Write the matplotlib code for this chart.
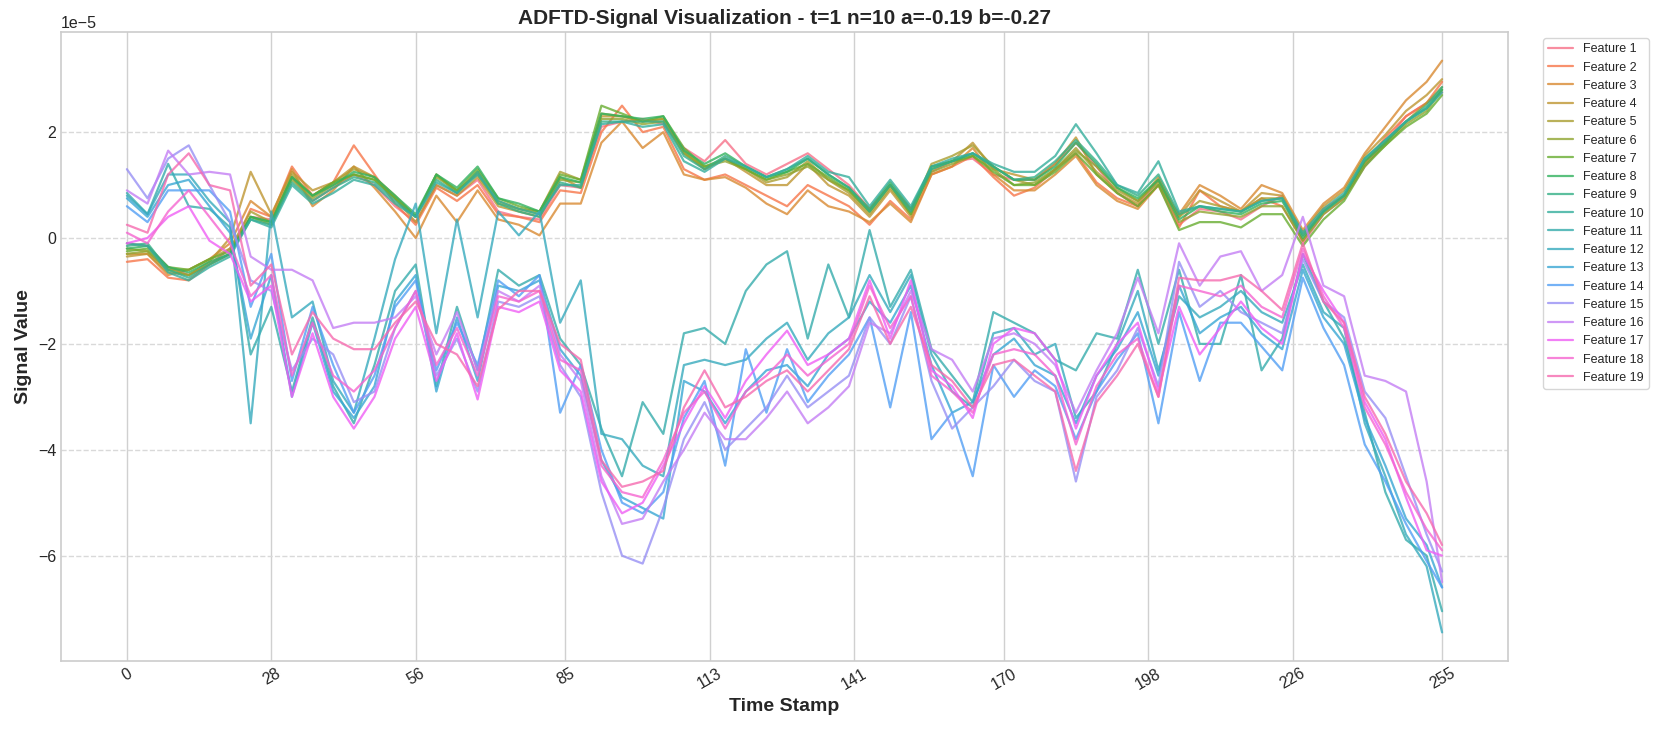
import numpy as np
import matplotlib
matplotlib.use("Agg")
import matplotlib.pyplot as plt
import seaborn as sns

TIME = [0, 4, 8, 12, 16, 20, 24, 28, 32, 36, 40, 44, 48, 52, 56, 60, 64, 68, 72, 76,
        80, 84, 88, 92, 96, 100, 104, 108, 112, 116, 120, 124, 128, 132, 136, 140,
        144, 148, 152, 156, 160, 164, 168, 172, 176, 180, 184, 188, 192, 196, 200,
        204, 208, 212, 216, 220, 224, 228, 232, 236, 240, 244, 248, 252, 255]

# signal values (units of 1e-5)
F1 = [-0.1,-0.15,-0.55,-0.7,-0.5,-0.2,0.4,0.35,1.15,0.7,0.95,1.2,1.0,0.6,0.3,1.0,0.8,1.1,0.5,0.4,0.35,1.0,0.95,2.1,2.2,2.25,2.15,1.7,1.45,1.85,1.4,1.2,1.4,1.6,1.3,1.0,0.55,1.0,0.55,1.25,1.45,1.5,1.2,1.1,1.1,1.4,1.8,1.35,0.85,0.6,1.1,0.25,0.55,0.5,0.35,0.6,0.8,-0.1,0.45,0.75,1.35,1.8,2.3,2.55,2.75]
F2 = [-0.45,-0.4,-0.75,-0.8,-0.5,-0.3,0.55,0.4,1.35,0.8,1.05,1.75,1.2,0.65,0.25,0.95,0.7,1.0,0.45,0.4,0.3,0.9,0.85,2.0,2.5,2.0,2.1,1.3,1.1,1.2,1.0,0.8,0.6,1.0,0.8,0.6,0.25,0.7,0.35,1.2,1.35,1.55,1.15,0.8,0.95,1.3,1.6,1.05,0.75,0.6,1.0,0.2,0.9,0.6,0.5,0.75,0.6,-0.05,0.55,0.8,1.4,1.9,2.3,2.55,2.95]
F3 = [-0.3,-0.3,-0.7,-0.6,-0.4,-0.1,0.7,0.4,1.3,0.6,0.9,1.35,0.95,0.5,0.0,0.8,0.3,0.9,0.35,0.25,0.05,0.65,0.65,1.8,2.2,1.7,2.0,1.2,1.1,1.15,0.95,0.65,0.45,0.9,0.6,0.5,0.3,0.65,0.3,1.2,1.35,1.7,1.2,0.9,0.9,1.2,1.55,1.0,0.7,0.55,1.0,0.45,1.0,0.8,0.55,1.0,0.85,0.15,0.65,0.95,1.6,2.1,2.6,2.95,3.35]
F4 = [-0.35,-0.3,-0.65,-0.7,-0.45,0.0,1.25,0.45,1.25,0.9,1.05,1.35,1.15,0.75,0.3,1.0,0.8,1.15,0.6,0.5,0.4,1.15,0.95,2.3,2.3,2.2,2.25,1.6,1.3,1.5,1.25,1.0,1.0,1.4,1.0,0.8,0.4,0.9,0.4,1.35,1.45,1.8,1.3,1.2,1.1,1.4,1.9,1.2,0.85,0.65,1.15,0.4,0.9,0.7,0.5,0.85,0.8,0.1,0.6,0.9,1.55,1.95,2.4,2.7,3.0]
F5 = [-0.2,-0.25,-0.6,-0.6,-0.4,-0.2,0.5,0.3,1.2,0.8,1.05,1.3,1.15,0.8,0.4,1.2,0.85,1.25,0.7,0.55,0.5,1.25,1.1,2.35,2.3,2.2,2.25,1.65,1.3,1.5,1.3,1.05,1.15,1.45,1.1,0.85,0.45,0.95,0.45,1.4,1.55,1.75,1.35,1.1,1.0,1.3,1.7,1.25,0.9,0.7,1.1,0.4,0.7,0.6,0.5,0.75,0.75,0.05,0.5,0.8,1.45,1.8,2.2,2.55,2.85]
F6 = [-0.3,-0.25,-0.6,-0.7,-0.5,-0.3,0.4,0.25,1.1,0.75,1.0,1.2,1.1,0.75,0.4,1.15,0.9,1.2,0.65,0.55,0.45,1.1,1.05,2.25,2.25,2.15,2.2,1.6,1.35,1.45,1.3,1.1,1.2,1.35,1.1,0.9,0.5,1.0,0.5,1.25,1.4,1.55,1.3,1.0,1.05,1.3,1.65,1.35,0.95,0.7,1.05,0.3,0.5,0.45,0.4,0.6,0.6,-0.05,0.45,0.75,1.4,1.75,2.15,2.4,2.8]
F7 = [-0.25,-0.2,-0.55,-0.6,-0.4,-0.25,0.4,0.3,1.15,0.8,1.05,1.2,1.1,0.75,0.4,1.2,0.9,1.3,0.75,0.6,0.5,1.2,1.1,2.5,2.35,2.2,2.3,1.7,1.35,1.5,1.3,1.1,1.25,1.4,1.15,0.9,0.5,1.0,0.45,1.3,1.45,1.55,1.25,1.0,1.0,1.25,1.6,1.2,0.85,0.6,1.0,0.15,0.3,0.3,0.2,0.45,0.45,-0.15,0.35,0.7,1.35,1.75,2.1,2.35,2.7]
F8 = [-0.2,-0.15,-0.55,-0.65,-0.45,-0.3,0.4,0.3,1.15,0.8,1.0,1.25,1.15,0.8,0.45,1.2,0.95,1.35,0.75,0.65,0.5,1.15,1.05,2.35,2.3,2.25,2.3,1.65,1.4,1.6,1.35,1.15,1.25,1.5,1.2,0.95,0.55,1.05,0.55,1.35,1.45,1.6,1.35,1.1,1.1,1.35,1.8,1.4,0.95,0.75,1.1,0.35,0.6,0.5,0.45,0.65,0.7,0.0,0.5,0.8,1.45,1.8,2.2,2.45,2.8]
F9 = [-0.15,-0.1,-0.6,-0.75,-0.5,-0.3,0.35,0.25,1.05,0.7,0.95,1.15,1.05,0.7,0.4,1.1,0.85,1.25,0.65,0.5,0.4,1.05,0.95,2.2,2.2,2.2,2.2,1.55,1.3,1.55,1.35,1.15,1.3,1.5,1.2,0.95,0.5,1.0,0.5,1.3,1.45,1.6,1.35,1.1,1.15,1.45,1.85,1.45,1.0,0.8,1.2,0.45,0.6,0.55,0.5,0.7,0.75,0.05,0.5,0.8,1.5,1.85,2.2,2.5,2.85]
F10 = [-0.1,-0.15,-0.65,-0.8,-0.55,-0.35,0.35,0.2,1.0,0.65,0.85,1.1,1.0,0.65,0.4,1.05,0.85,1.2,0.7,0.55,0.45,1.0,1.0,2.15,2.2,2.1,2.15,1.45,1.25,1.5,1.35,1.15,1.3,1.55,1.25,1.15,0.6,1.1,0.6,1.35,1.5,1.6,1.4,1.25,1.25,1.55,2.15,1.6,1.0,0.85,1.45,0.5,0.6,0.55,0.5,0.7,0.75,0.1,0.55,0.85,1.5,1.85,2.2,2.45,2.75]
F11 = [0.85,0.45,1.4,0.6,0.55,0.2,-2.2,-1.3,-2.9,-1.5,-2.8,-3.5,-2.4,-1.0,-0.5,-2.8,-1.3,-2.5,-0.6,-0.9,-0.7,-1.9,-2.4,-3.6,-4.5,-3.1,-3.7,-1.8,-1.7,-2.0,-1.0,-0.5,-0.25,-1.9,-0.5,-1.5,0.15,-1.3,-0.6,-2.1,-2.6,-3.1,-1.4,-1.6,-1.8,-2.3,-2.5,-1.8,-1.9,-0.6,-2.0,-0.6,-2.0,-2.0,-0.7,-2.5,-1.9,-0.3,-1.2,-1.9,-3.3,-4.8,-5.7,-6.0,-7.05]
F12 = [0.8,0.45,1.2,1.2,0.7,0.3,-3.5,0.5,-1.5,-1.2,-2.7,-3.3,-1.9,-0.4,0.65,-1.8,0.35,-1.5,0.5,0.05,0.5,-1.6,-0.8,-3.7,-3.8,-4.3,-4.5,-2.4,-2.3,-2.4,-2.3,-1.9,-1.6,-2.3,-1.8,-1.5,-0.7,-1.4,-0.7,-2.2,-2.9,-3.2,-1.8,-1.7,-2.2,-2.0,-3.4,-2.9,-2.0,-1.0,-2.5,-1.1,-1.5,-1.3,-1.0,-1.4,-1.6,-0.5,-1.4,-1.7,-3.5,-4.5,-5.6,-6.2,-7.45]
F13 = [0.75,0.4,1.0,1.1,0.6,0.1,-1.9,-0.7,-3.0,-1.6,-2.9,-3.4,-2.8,-1.2,-0.7,-2.9,-1.5,-2.7,-0.9,-1.0,-0.8,-2.1,-2.6,-4.2,-4.9,-5.1,-5.3,-2.7,-2.9,-3.5,-2.9,-2.5,-2.4,-2.8,-2.2,-1.9,-1.2,-1.6,-0.9,-2.4,-3.3,-3.1,-2.2,-1.9,-2.4,-2.6,-3.5,-2.6,-2.1,-1.4,-2.6,-0.9,-1.8,-1.5,-1.3,-1.8,-2.1,-0.6,-1.5,-2.0,-3.4,-4.3,-5.3,-5.8,-6.6]
F14 = [0.6,0.3,0.9,0.9,0.9,0.5,-1.3,-0.3,-2.7,-1.3,-2.4,-3.3,-2.6,-1.3,-0.8,-2.5,-1.6,-2.4,-0.8,-1.1,-0.7,-3.3,-2.4,-4.0,-5.0,-5.2,-4.8,-3.4,-2.7,-4.3,-2.1,-3.3,-2.1,-3.1,-2.6,-2.2,-1.5,-3.2,-1.4,-3.8,-3.3,-4.5,-2.4,-3.0,-2.5,-2.8,-3.8,-2.9,-2.3,-1.8,-3.5,-1.4,-2.7,-1.6,-1.6,-2.05,-2.5,-0.75,-1.7,-2.4,-3.9,-4.6,-5.4,-6.1,-6.6]
F15 = [1.3,0.75,1.5,1.75,1.0,0.3,-0.8,-1.0,-2.5,-1.9,-2.2,-3.1,-2.9,-1.7,-1.0,-2.6,-1.9,-2.9,-1.2,-1.3,-1.1,-2.4,-3.0,-4.8,-6.0,-6.15,-5.1,-3.8,-3.1,-4.0,-3.6,-3.2,-2.6,-3.2,-2.9,-2.6,-1.5,-2.0,-1.1,-2.7,-3.6,-3.2,-2.8,-2.3,-2.7,-2.9,-4.6,-3.0,-2.5,-1.7,-2.8,-0.45,-1.3,-1.0,-1.4,-1.6,-1.8,-0.4,-1.2,-1.5,-2.9,-3.4,-4.5,-5.6,-6.3]
F16 = [0.9,0.65,1.65,1.2,1.25,1.2,-0.35,-0.6,-0.6,-0.8,-1.7,-1.6,-1.6,-1.5,-1.1,-2.2,-1.4,-2.5,-1.0,-1.2,-0.9,-2.2,-2.7,-4.5,-5.4,-5.3,-4.6,-4.0,-3.3,-3.8,-3.8,-3.4,-2.9,-3.5,-3.2,-2.8,-1.6,-1.8,-1.0,-2.1,-2.3,-2.9,-1.9,-1.8,-2.0,-2.4,-3.3,-2.5,-1.8,-0.75,-1.8,-0.1,-0.9,-0.35,-0.25,-1.0,-0.7,0.4,-0.9,-1.1,-2.6,-2.7,-2.9,-4.6,-6.5]
F17 = [-0.1,0.0,0.4,0.6,-0.05,-0.3,-1.2,-0.9,-3.0,-1.8,-3.0,-3.6,-3.0,-1.9,-1.3,-2.7,-1.8,-3.05,-1.3,-1.4,-1.2,-2.5,-2.9,-4.6,-5.2,-5.0,-4.3,-3.5,-2.8,-3.4,-2.7,-2.2,-1.75,-2.4,-2.2,-1.9,-0.8,-1.9,-0.8,-2.5,-2.8,-3.4,-2.0,-1.7,-1.8,-2.3,-3.6,-2.6,-2.0,-1.6,-2.9,-1.3,-2.2,-1.7,-1.2,-1.7,-2.0,-0.3,-1.0,-1.6,-3.1,-3.8,-4.9,-5.9,-6.0]
F18 = [0.1,-0.1,0.5,0.9,0.4,-0.1,-1.1,-0.7,-2.6,-1.6,-2.6,-2.9,-2.5,-1.7,-1.0,-2.4,-1.7,-2.6,-1.1,-1.2,-1.0,-2.3,-2.5,-4.3,-4.8,-4.9,-4.2,-3.3,-2.9,-3.6,-2.9,-2.6,-2.2,-2.6,-2.3,-2.0,-0.9,-1.7,-1.1,-2.6,-2.9,-3.3,-2.2,-2.1,-2.2,-2.6,-3.9,-2.8,-2.2,-1.9,-3.0,-0.9,-1.0,-1.1,-0.9,-1.3,-1.5,-0.2,-1.1,-1.7,-3.2,-3.9,-4.8,-5.5,-5.9]
F19 = [0.25,0.1,1.2,1.6,1.0,0.9,-0.9,-0.5,-2.2,-1.4,-1.9,-2.1,-2.1,-1.6,-1.2,-2.0,-2.2,-2.8,-1.35,-1.0,-1.0,-2.0,-2.3,-4.2,-4.7,-4.6,-4.4,-3.2,-2.5,-3.2,-3.0,-2.7,-2.5,-2.9,-2.5,-2.1,-1.1,-2.0,-1.3,-2.4,-2.7,-3.2,-2.4,-2.3,-2.6,-2.9,-4.4,-3.1,-2.6,-2.0,-3.0,-0.75,-0.8,-0.8,-0.7,-1.0,-1.36,-0.1,-1.2,-1.6,-3.0,-3.7,-4.6,-5.2,-5.8]

FEATURES = [F1, F2, F3, F4, F5, F6, F7, F8, F9, F10,
            F11, F12, F13, F14, F15, F16, F17, F18, F19]
LABELS = ["Feature %d" % (i + 1) for i in range(len(FEATURES))]
XTICKS = [0, 28, 56, 85, 113, 141, 170, 198, 226, 255]
SCALE = 1e-5

sns.set_style("whitegrid")
plt.rcParams['font.family'] = ['Liberation Sans', 'DejaVu Sans']
plt.rcParams['axes.unicode_minus'] = True

fig, ax = plt.subplots(figsize=(16.61, 7.29), dpi=100)
fig.subplots_adjust(left=0.0368, right=0.9078, top=0.956, bottom=0.0933)

colors = sns.color_palette("husl", len(FEATURES))
for vals, lab, c in zip(FEATURES, LABELS, colors):
    ax.plot(TIME, np.array(vals) * SCALE, color=c, lw=1.6, alpha=0.8, label=lab)

ax.set_xticks(XTICKS)
ax.set_xticklabels([str(v) for v in XTICKS], rotation=30)
ax.tick_params(axis='both', labelsize=11.5, colors='#262626', length=0)
ax.grid(False)
ax.xaxis.grid(True, color='#d0d0d0', lw=1.0, ls='-')
ax.yaxis.grid(True, color='#d9d9d9', lw=1.0, ls='--')
for s in ax.spines.values():
    s.set_color('#cccccc')
    s.set_linewidth(1.2)
ax.yaxis.get_offset_text().set_fontsize(11.5)

ax.set_title("ADFTD-Signal Visualization - t=1 n=10 a=-0.19 b=-0.27",
             fontsize=15, fontweight='bold', color='#262626')
ax.set_xlabel("Time Stamp", fontsize=14, fontweight='bold', color='#262626')
ax.set_ylabel("Signal Value", fontsize=14, fontweight='bold', color='#262626')

ax.legend(loc='upper left', bbox_to_anchor=(1.02, 1.0), fontsize=9, frameon=True)

fig.savefig("out.png", dpi=100)
